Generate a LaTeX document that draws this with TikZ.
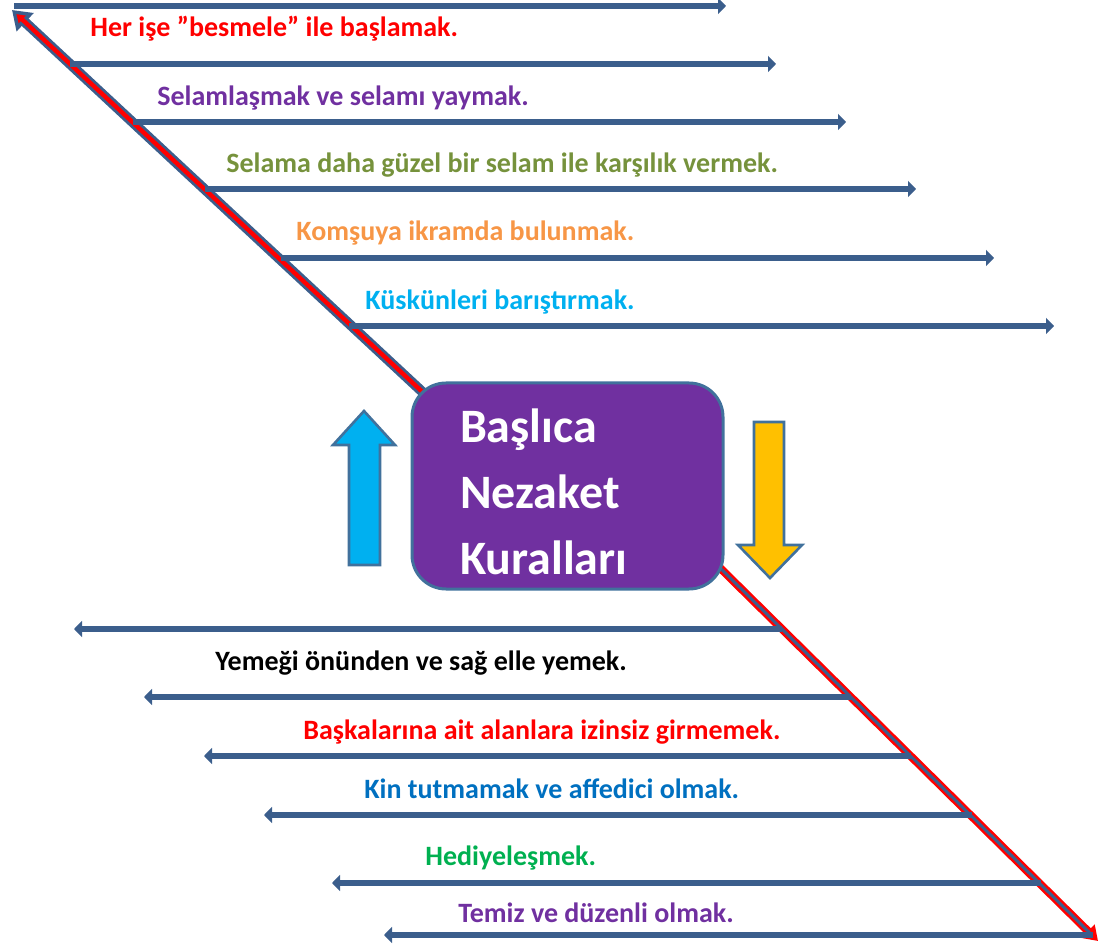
\documentclass[tikz,border=0pt]{standalone}
\usepackage{fontspec}
\setmainfont{Carlito}
\usepackage{tikz}
\usetikzlibrary{arrows.meta,positioning,calc}
\definecolor{barblue}{HTML}{3B5E8C}
\definecolor{edgeblue}{HTML}{41719C}
\definecolor{rulepurple}{HTML}{7030A0}
\definecolor{ruleolive}{HTML}{76923C}
\definecolor{ruleorange}{HTML}{F79646}
\definecolor{rulecyan}{HTML}{00B0F0}
\definecolor{ruleblue}{HTML}{0070C0}
\definecolor{rulegreen}{HTML}{00B050}
\definecolor{rulegold}{HTML}{FFC000}
\tikzset{
	bararrow/.style={-{Triangle[length=4pt,width=8pt]}, line width=3.2pt, barblue},
	rulelabel/.style={font=\fontsize{14}{17}\selectfont\bfseries, anchor=base west, inner sep=0pt},
	blockarrow/.style={draw=edgeblue, line width=1.3pt, line join=miter}
}

\begin{document}
\begin{tikzpicture}[x=0.5pt, y=-0.5pt,
			titlebox/.style={draw=edgeblue, fill=rulepurple, rounded corners=17pt,
				line width=1.5pt, minimum width=155.5pt, minimum height=103pt,
				text=white, align=left, text width=107.5pt, inner sep=0pt,
				font=\fontsize{24}{33}\selectfont\bfseries},
			]
			\useasboundingbox (0,0) rectangle (1112,945);
			
			%% -- Diagonal spine (behind the box)
			\coordinate (tl) at (12,10);
			\coordinate (c1) at (430,399);
			\coordinate (c2) at (712,560);
			\coordinate (br) at (1098,941);
			
			\draw[line width=5pt, barblue, -{Triangle[length=9pt,width=12pt]}] (c1) -- (tl);
			\draw[line width=2.2pt, red, shorten >=3pt, -{Triangle[length=4pt,width=5pt]}] (c1) -- (tl);
			
			\draw[line width=4pt, red, -{Triangle[length=7pt,width=9pt]}] (c2) -- (br);
			\draw[line width=1.5pt, barblue, shorten >=6pt] (c2) -- (br);
			
			%% -- Title box
			\node[titlebox] (box) at (567.5,486) {\rule{0pt}{23pt}Başlıca\\Nezaket\\Kuralları};
			
			%% -- Upper bars (pointing right)
			\foreach \y/\xs/\xe [count=\i] in {6/14/726, 64/70/776, 122/133/846,
				189/205/916, 258/281/994, 326/349/1054}{
				\coordinate (us\i) at (\xs,\y);
				\coordinate (ue\i) at (\xe,\y);
				\draw[bararrow] (us\i) -- (ue\i);
			}
			
			%% -- Lower bars (pointing left)
			\foreach \y/\xs/\xe [count=\i] in {629/782/74, 697/851/144, 756/911/204,
				815/972/264, 883/1041/332, 935/1093/384}{
				\coordinate (ls\i) at (\xs,\y);
				\coordinate (le\i) at (\xe,\y);
				\draw[bararrow] (ls\i) -- (le\i);
			}
			
			%% -- Block arrows beside the box
			\draw[blockarrow, fill=rulecyan] (349,565) -- (349,445) -- (333,445) -- (364,411)
			-- (395,445) -- (380,445) -- (380,565) -- cycle;
			\draw[blockarrow, fill=rulegold] (754,422) -- (784,422) -- (784,545) -- (802,545)
			-- (770,578) -- (738,545) -- (754,545) -- cycle;
			
			%% -- Upper rules
			\node[rulelabel, text=red] (u1) at (90,37) {Her işe ''besmele'' ile başlamak.};
			\node[rulelabel, text=rulepurple] (u2) at (157,106) {Selamlaşmak ve selamı yaymak.};
			\node[rulelabel, text=ruleolive] (u3) at (226,173) {Selama daha güzel bir selam ile karşılık vermek.};
			\node[rulelabel, text=ruleorange] (u4) at (296,241) {Komşuya ikramda bulunmak.};
			\node[rulelabel, text=rulecyan] (u5) at (365,310) {Küskünleri barıştırmak.};
			
			%% -- Lower rules
			\node[rulelabel, text=black] (l1) at (215,670) {Yemeği önünden ve sağ elle yemek.};
			\node[rulelabel, text=red] (l2) at (303,739) {Başkalarına ait alanlara izinsiz girmemek.};
			\node[rulelabel, text=ruleblue] (l3) at (364,798) {Kin tutmamak ve affedici olmak.};
			\node[rulelabel, text=rulegreen] (l4) at (425,865) {Hediyeleşmek.};
			\node[rulelabel, text=rulepurple] (l5) at (458,922) {Temiz ve düzenli olmak.};
			
		\end{tikzpicture}
\end{document}
